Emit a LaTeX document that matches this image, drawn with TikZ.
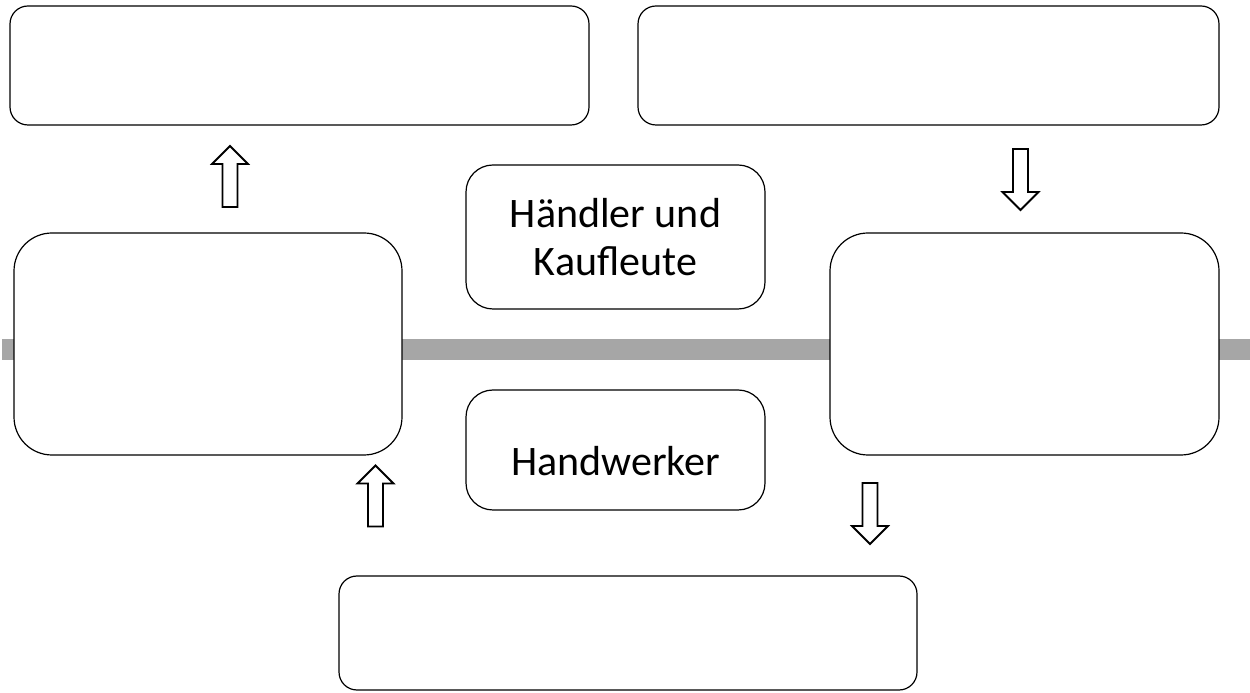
\documentclass[tikz,border=0pt]{standalone}
\usepackage{fontspec}
\setmainfont{Carlito}
\usetikzlibrary{positioning}
\tikzset{
  pics/blockarrow/.style={
    code={
      \draw[pic actions] (-7.5,-30.5) -- (7.5,-30.5) -- (7.5,12.5) -- (18,12.5)
        -- (0,30.5) -- (-18,12.5) -- (-7.5,12.5) -- cycle;
    }
  },
  roundbox/.style={draw, fill=white, line width=1.2pt, rounded corners=#1, inner sep=0pt,
    font=\fontsize{42}{48}\selectfont, align=center},
  roundbox/.default=18pt
}
\begin{document}
\begin{tikzpicture}[x=1pt, y=1pt]
\useasboundingbox (0,0) rectangle (1250,693);

% grey band behind the boxes
\fill[black!35] (2,333) rectangle (1250,354);

% top row
\node[roundbox, minimum width=579pt, minimum height=119pt] (upperleft) at (299.5,627.5) {};
\node[roundbox, minimum width=581pt, minimum height=119pt] (upperright) at (928.5,627.5) {};

% side boxes on the band
\node[roundbox=38pt, minimum width=388pt, minimum height=222pt] (leftbox) at (208,349) {};
\node[roundbox=38pt, minimum width=389pt, minimum height=222pt] (rightbox) at (1024.5,349) {};

% middle
\node[roundbox=27pt, minimum width=299pt, minimum height=144pt] (traders) at (615.5,456) {Händler und\\Kaufleute};
\node[roundbox=27pt, minimum width=299pt, minimum height=120pt, text height=52pt, text depth=0pt] (crafts) at (615.5,243) {Handwerker};

% bottom
\node[roundbox, minimum width=578pt, minimum height=114pt] (lowerbox) at (628,60) {};

% hollow arrows
\pic[line width=1.8pt] (upA) at (230,516.5) {blockarrow};
\pic[line width=1.8pt, rotate=180] (downA) at (1020.5,513.5) {blockarrow};
\pic[line width=1.8pt] (upB) at (375.5,197) {blockarrow};
\pic[line width=1.8pt, rotate=180] (downB) at (870,179.5) {blockarrow};

\end{tikzpicture}
\end{document}
